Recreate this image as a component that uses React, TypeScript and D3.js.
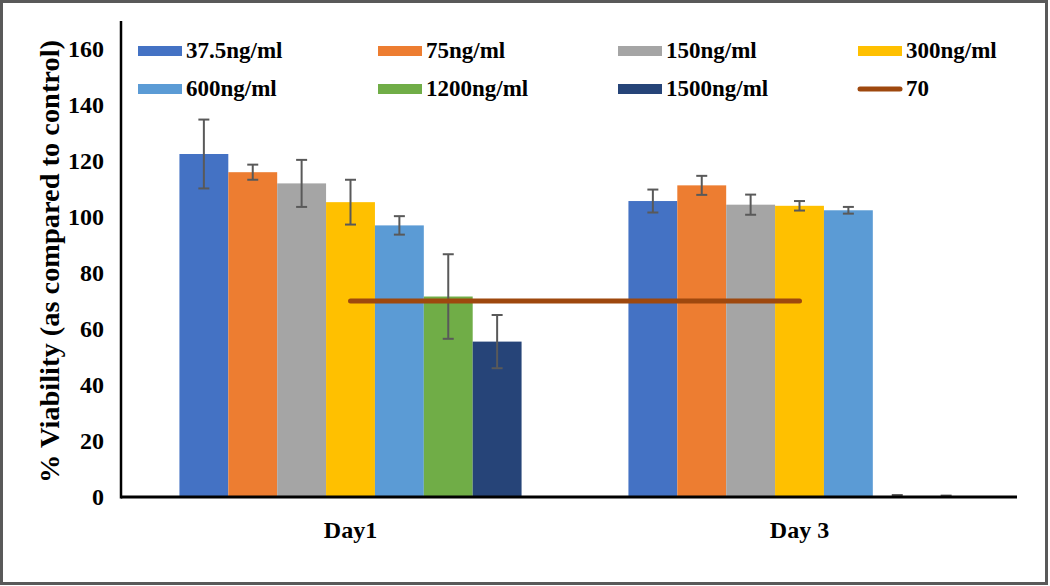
import React from 'react';
import * as d3 from 'd3';

const categories = ['Day1', 'Day 3'];
const seriesNames = ['37.5ng/ml', '75ng/ml', '150ng/ml', '300ng/ml', '600ng/ml', '1200ng/ml', '1500ng/ml'];
const seriesColors = ['#4472C4', '#ED7D31', '#A5A5A5', '#FFC000', '#5B9BD5', '#70AD47', '#264478'];
const day1Values = [122.5, 116, 112, 105.3, 97, 71.6, 55.5];
const day1Errors = [12.3, 2.7, 8.4, 8, 3.3, 15.1, 9.5];
const day3Values = [105.7, 111.3, 104.4, 104, 102.4, 0.3, 0.2];
const day3Errors = [4.1, 3.4, 3.6, 1.7, 1.2, 0.4, 0.3];
const thresholdName = '70';
const thresholdColor = '#9E480E';
const thresholdValues = [70, 70];
const yTicks = [0, 20, 40, 60, 80, 100, 120, 140, 160];
const yTitle = '% Viability (as compared to control)';

const W = 1050;
const H = 586;
const FONT = '"Liberation Serif", "Times New Roman", serif';

export default function App() {
  const values = [day1Values, day3Values];
  const errors = [day1Errors, day3Errors];

  const y = d3.scaleLinear().domain([0, 170]).range([497, 21]);
  const x0 = d3.scaleBand<string>().domain(categories).range([126, 1024]).paddingInner(0.238).paddingOuter(0.119);
  const x1 = d3.scaleBand<string>().domain(seriesNames).range([0, x0.bandwidth()]).padding(0);

  const axisLeft = 121;
  const axisRight = 1017;

  const legendX = d3.scaleLinear().domain([0, 3]).range([138, 858]);
  const legendY = d3.scaleLinear().domain([0, 1]).range([51, 89]);
  const legendItems = [
    ...seriesNames.map((n, i) => ({ name: n, color: seriesColors[i], type: 'bar' })),
    { name: thresholdName, color: thresholdColor, type: 'line' },
  ];

  const line = d3
    .line<number>()
    .x((_, i) => (x0(categories[i]) as number) + x0.bandwidth() / 2)
    .y((d) => y(d));

  const capW = 11;
  const textStyle = { fontFamily: FONT, fontWeight: 700 } as React.CSSProperties;

  return (
    <svg
      width={W}
      height={H}
      style={{ position: 'absolute', left: 0, top: 0, display: 'block', background: '#fff' }}
    >
      <rect x={0} y={0} width={W} height={H} fill="#fff" />
      <rect x={1.5} y={1.5} width={1045} height={582} fill="none" stroke="#595959" strokeWidth={3} />

      {/* bars */}
      {categories.map((c, ci) =>
        seriesNames.map((s, si) => {
          const v = values[ci][si];
          const bx = (x0(c) as number) + (x1(s) as number);
          return (
            <rect
              key={`${c}-${s}`}
              x={bx}
              y={y(v)}
              width={x1.bandwidth()}
              height={y(0) - y(v)}
              fill={seriesColors[si]}
            />
          );
        })
      )}

      {/* error bars */}
      {categories.map((c, ci) =>
        seriesNames.map((s, si) => {
          const v = values[ci][si];
          const e = errors[ci][si];
          const cx = (x0(c) as number) + (x1(s) as number) + x1.bandwidth() / 2;
          return (
            <g key={`e-${c}-${s}`} stroke="#595959" strokeWidth={2}>
              <line x1={cx} x2={cx} y1={y(v + e)} y2={y(Math.max(0, v - e))} />
              <line x1={cx - capW / 2} x2={cx + capW / 2} y1={y(v + e)} y2={y(v + e)} />
              <line x1={cx - capW / 2} x2={cx + capW / 2} y1={y(Math.max(0, v - e))} y2={y(Math.max(0, v - e))} />
            </g>
          );
        })
      )}

      {/* threshold line */}
      <path d={line(thresholdValues) || ''} fill="none" stroke={thresholdColor} strokeWidth={5} strokeLinecap="round" />

      {/* axes */}
      <line x1={axisLeft} x2={axisLeft} y1={y(170)} y2={y(0) + 1.5} stroke="#000" strokeWidth={2.5} />
      <line x1={axisLeft} x2={axisRight} y1={y(0)} y2={y(0)} stroke="#000" strokeWidth={3} />

      {/* y tick labels */}
      {yTicks.map((t) => (
        <text key={t} x={104} y={y(t)} dy="0.35em" textAnchor="end" fontSize={24} fill="#000" style={textStyle}>
          {t}
        </text>
      ))}

      {/* x labels */}
      {categories.map((c) => (
        <text
          key={c}
          x={(x0(c) as number) + x0.bandwidth() / 2}
          y={538}
          textAnchor="middle"
          fontSize={24}
          fill="#000"
          style={textStyle}
        >
          {c}
        </text>
      ))}

      {/* y title */}
      <text
        transform={`translate(59, ${261.5}) rotate(-90)`}
        textAnchor="middle"
        fontSize={27}
        fill="#000"
        style={textStyle}
        textLength={443}
        lengthAdjust="spacingAndGlyphs"
      >
        {yTitle}
      </text>

      {/* legend */}
      {legendItems.map((it, i) => {
        const lx = legendX(i % 4);
        const ly = legendY(Math.floor(i / 4));
        return (
          <g key={it.name}>
            {it.type === 'bar' ? (
              <rect x={lx} y={ly - 5} width={44} height={10} fill={it.color} />
            ) : (
              <line x1={lx + 2} x2={lx + 42} y1={ly} y2={ly} stroke={it.color} strokeWidth={5} strokeLinecap="round" />
            )}
            <text x={lx + 48} y={ly} dy={6.5} fontSize={23} fill="#000" style={textStyle}>
              {it.name}
            </text>
          </g>
        );
      })}
    </svg>
  );
}
